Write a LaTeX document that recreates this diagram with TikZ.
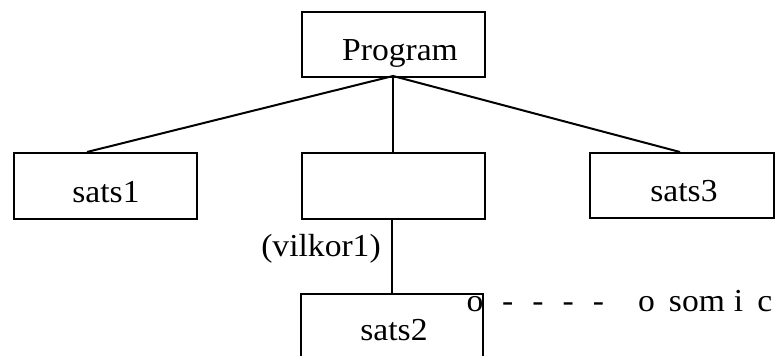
\documentclass[tikz,border=0pt]{standalone}
\usepackage{fontspec}
\setmainfont{Liberation Serif}[FakeStretch=1.05]
\tikzset{
  box/.style={draw, line width=2pt, rectangle, inner sep=0pt, anchor=north west},
  lbl/.style={inner sep=0pt, anchor=base, font=\fontsize{32}{38}\selectfont},
  edge/.style={line width=2pt},
}
\begin{document}
\begin{tikzpicture}[x=1pt,y=-1pt]
\useasboundingbox (0,0) rectangle (780,356);
% boxes
\node[box, minimum width=183pt, minimum height=65pt] (prog) at (301,11) {};
\node[box, minimum width=183pt, minimum height=66pt] (s1) at (13,152) {};
\node[box, minimum width=183pt, minimum height=66pt] (mid) at (301,152) {};
\node[box, minimum width=184pt, minimum height=65pt] (s3) at (589,152) {};
\node[box, minimum width=182pt, minimum height=90pt] (s2) at (300,293) {};
% texts
\node[lbl] (tprog) at (400,60) {Program};
\node[lbl] (ts1) at (106,202) {sats1};
\node[lbl] (ts3) at (684,201) {sats3};
\node[lbl] (ts2) at (394,340) {sats2};
\node[lbl] (tv) at (321,256) {(vilkor1)};
\node[lbl] (to) at (475,311) {o};
\node[lbl, anchor=base west] (td) at (502,311) {-\hspace{19pt}-\hspace{19pt}-\hspace{19pt}-};
\node[lbl, anchor=base west] (tsom) at (638,311) {o\hspace{14pt}som\hspace{9pt}i\hspace{14pt}c};
% connector points
\coordinate (pb) at (393,76);
\coordinate (s1t) at (87,152);
\coordinate (midt) at (393,152);
\coordinate (s3t) at (680,152);
\coordinate (midb) at (392,218);
\coordinate (s2t) at (392,293);
\draw[edge] (pb) -- (s1t);
\draw[edge] (pb) -- (midt);
\draw[edge] (pb) -- (s3t);
\draw[edge] (midb) -- (s2t);
\end{tikzpicture}
\end{document}
